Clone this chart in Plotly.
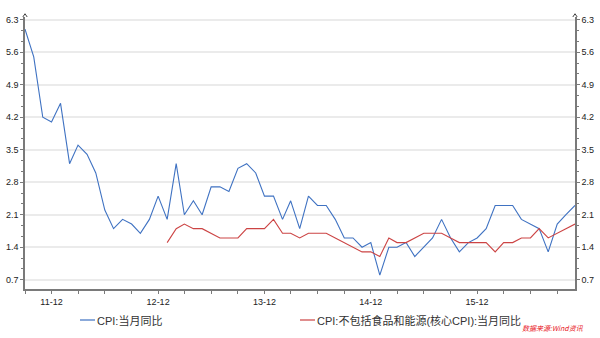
import plotly.graph_objects as go
import pandas as pd

# Months: Sep 2011 .. Nov 2016
months = pd.date_range("2011-09-01", periods=63, freq="MS")

cpi_yoy = [
    6.1, 5.5, 4.2, 4.1,                                         # 2011 Sep-Dec
    4.5, 3.2, 3.6, 3.4, 3.0, 2.2, 1.8, 2.0, 1.9, 1.7, 2.0, 2.5,  # 2012
    2.0, 3.2, 2.1, 2.4, 2.1, 2.7, 2.7, 2.6, 3.1, 3.2, 3.0, 2.5,  # 2013
    2.5, 2.0, 2.4, 1.8, 2.5, 2.3, 2.3, 2.0, 1.6, 1.6, 1.4, 1.5,  # 2014
    0.8, 1.4, 1.4, 1.5, 1.2, 1.4, 1.6, 2.0, 1.6, 1.3, 1.5, 1.6,  # 2015
    1.8, 2.3, 2.3, 2.3, 2.0, 1.9, 1.8, 1.3, 1.9, 2.1, 2.3,       # 2016 Jan-Nov
]

core_months = months[16:]
core_cpi_yoy = [
    1.5, 1.8, 1.9, 1.8, 1.8, 1.7, 1.6, 1.6, 1.6, 1.8, 1.8, 1.8,  # 2013
    2.0, 1.7, 1.7, 1.6, 1.7, 1.7, 1.7, 1.6, 1.5, 1.4, 1.3, 1.3,  # 2014
    1.2, 1.6, 1.5, 1.5, 1.6, 1.7, 1.7, 1.7, 1.6, 1.5, 1.5, 1.5,  # 2015
    1.5, 1.3, 1.5, 1.5, 1.6, 1.6, 1.8, 1.6, 1.7, 1.8, 1.9,       # 2016
]

y_ticks = [0.7, 1.4, 2.1, 2.8, 3.5, 4.2, 4.9, 5.6, 6.3]
y_tick_labels = ["0.7", "1.4", "2.1", "2.8", "3.5", "4.2", "4.9", "5.6", "6.3"]

x_tick_dates = months[::3]
x_label_map = {"2011-12": "11-12", "2012-12": "12-12", "2013-12": "13-12",
               "2014-12": "14-12", "2015-12": "15-12"}
x_tick_text = [x_label_map.get(d.strftime("%Y-%m"), "") for d in x_tick_dates]

name_cpi = "CPI:当月同比"
name_core = "CPI:不包括食品和能源(核心CPI):当月同比"

BLUE = "#3f72c2"
RED = "#cc4444"
AXIS = "#7a7a7a"
GRID = "#ebebeb"
FONT = "Liberation Sans, Noto Sans CJK SC, sans-serif"

# plot-area geometry (pixels)
W, H = 600, 338
L, R, T, B = 25, 25, 17, 49
PW, PH = W - L - R, H - T - B


def px(x):
    return (x - L) / PW


def py(y):
    return (H - B - y) / PH


fig = go.Figure()
fig.add_trace(go.Scatter(x=months, y=cpi_yoy, mode="lines", name=name_cpi,
                         line=dict(color=BLUE, width=1.1), showlegend=False))
fig.add_trace(go.Scatter(x=core_months, y=core_cpi_yoy, mode="lines", name=name_core,
                         line=dict(color=RED, width=1.1), showlegend=False))
# invisible trace to carry the right-hand axis
fig.add_trace(go.Scatter(x=months, y=cpi_yoy, mode="lines", yaxis="y2",
                         line=dict(color="rgba(0,0,0,0)", width=0),
                         showlegend=False, hoverinfo="skip"))

yrange = [0.5, 6.36]
common_y = dict(range=yrange, tickvals=y_ticks, ticktext=y_tick_labels,
                ticks="outside", ticklen=3, tickcolor=AXIS, tickwidth=1,
                showline=True, linecolor=AXIS, linewidth=1.5, automargin=False,
                tickfont=dict(size=9, color="#222", family=FONT),
                zeroline=False,
                minor=dict(ticks="outside", ticklen=2, tickcolor=AXIS,
                           tick0=0.7, dtick=0.7 / 3, showgrid=False))

fig.update_layout(
    width=W, height=H,
    margin=dict(l=L, r=R, t=T, b=B),
    paper_bgcolor="white", plot_bgcolor="white",
    font=dict(family=FONT, color="#333"),
    xaxis=dict(range=[months[0], months[-1]], tickvals=x_tick_dates, ticktext=x_tick_text,
               ticks="outside", ticklen=3, tickcolor=AXIS, showline=True, automargin=False,
               linecolor=AXIS, linewidth=1.5, showgrid=False, zeroline=False,
               tickfont=dict(size=9, color="#222", family=FONT)),
    yaxis=dict(showgrid=True, gridcolor=GRID, gridwidth=1.5, side="left", **common_y),
    yaxis2=dict(overlaying="y", side="right", showgrid=False, **common_y),
    showlegend=False,
)

# legend drawn as line samples + text
legend_items = [(name_cpi, BLUE, 80), (name_core, RED, 300)]
for label, color, x0 in legend_items:
    fig.add_shape(type="line", xref="paper", yref="paper",
                  x0=px(x0), x1=px(x0 + 15), y0=py(320), y1=py(320),
                  line=dict(color=color, width=1.2))
    fig.add_annotation(text=label, xref="paper", yref="paper",
                       x=px(x0 + 15), y=py(320), xanchor="left", yanchor="middle",
                       showarrow=False,
                       font=dict(size=11, color="#333", family=FONT))

# small arrow heads at top of the two vertical axes
for xp in (0, 1):
    fig.add_shape(type="path", xref="paper", yref="paper",
                  path=f"M {xp-0.004} 1.0 L {xp} 1.012 L {xp+0.004} 1.0",
                  line=dict(color="#444", width=1))

fig.add_annotation(text="<i>数据来源:Wind资讯</i>", xref="paper", yref="paper",
                   x=px(586), y=py(328), xanchor="right", yanchor="middle",
                   showarrow=False,
                   font=dict(size=7, color="#e8141c", family="Noto Sans CJK SC"))

fig.write_html("out.html")
